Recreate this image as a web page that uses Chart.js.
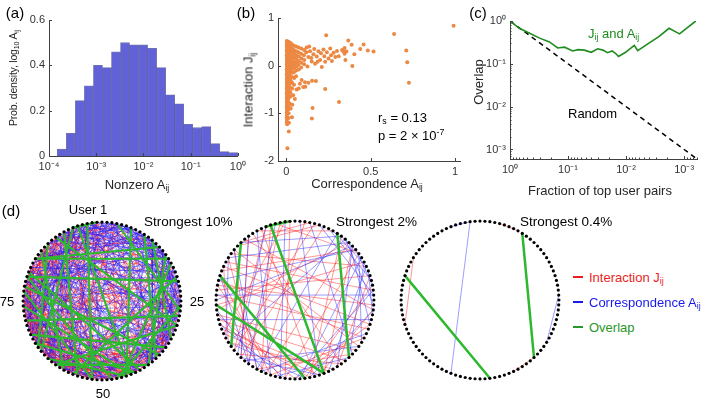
<!DOCTYPE html>
<html>
<head>
<meta charset="utf-8">
<script src="https://cdn.jsdelivr.net/npm/chart.js@4/dist/chart.umd.min.js"></script>
<style>
body { margin: 0; background: #fff; font-family: "Liberation Sans", Arial, Helvetica, sans-serif; }
#fig { position: relative; width: 706px; height: 399px; overflow: hidden; }
#fig canvas { position: absolute; }
.t { position: absolute; white-space: nowrap; color: #262626; font-size: 13px; line-height: 1; }
.c { transform: translate(-50%, -50%); }
.l { transform: translate(0, -50%); }
.rot { transform: translate(-50%, -50%) rotate(-90deg); }
.lab { font-size: 15px; color: #000; }
sub { font-size: 0.68em; vertical-align: -0.3em; line-height: 0; }
sup { font-size: 0.68em; vertical-align: 0.5em; line-height: 0; }
.key { position: absolute; width: 10px; height: 2px; }
</style>
</head>
<body>
<div id="fig">
  <canvas id="histA" width="250" height="178" style="left:0;top:0"></canvas>
  <canvas id="scatB" width="240" height="180" style="left:230px;top:0"></canvas>
  <canvas id="overC" width="236" height="178" style="left:470px;top:0"></canvas>
  <canvas id="net10" width="180" height="180" style="left:12px;top:211px"></canvas>
  <canvas id="net2" width="180" height="180" style="left:205px;top:210px"></canvas>
  <canvas id="net04" width="180" height="180" style="left:390px;top:210px"></canvas>

  <div class="t c lab" style="left:15px;top:12px">(a)</div>
  <div class="t c lab" style="left:246px;top:12px">(b)</div>
  <div class="t c lab" style="left:478px;top:12px">(c)</div>
  <div class="t c lab" style="left:11px;top:210px">(d)</div>

  <div class="t rot" style="left:13px;top:78px;font-size:10.5px;letter-spacing:-0.2px">Prob. density, log<sub>10</sub> A<sub>ij</sub></div>
  <div class="t c" style="left:137px;top:184px">Nonzero A<sub>ij</sub></div>

  <div class="t rot" style="left:248px;top:90px">Interaction J<sub>ij</sub></div>
  <div class="t c" style="left:367px;top:183px">Correspondence A<sub>ij</sub></div>
  <div class="t l" style="left:378px;top:117px;color:#000">r<sub>s</sub> = 0.13</div>
  <div class="t l" style="left:378px;top:135px;color:#000">p = 2 × 10<sup>-7</sup></div>

  <div class="t rot" style="left:478px;top:82px">Overlap</div>
  <div class="t c" style="left:600px;top:190px">Fraction of top user pairs</div>
  <div class="t l" style="left:588px;top:33px;color:rgb(30,140,30)">J<sub>ij</sub> and A<sub>ij</sub></div>
  <div class="t l" style="left:568px;top:113px;color:#000">Random</div>

  <div class="t c" style="left:88px;top:209px;color:#000">User 1</div>
  <div class="t c" style="left:197px;top:301px;color:#000">25</div>
  <div class="t c" style="left:7px;top:301px;color:#000">75</div>
  <div class="t c" style="left:103px;top:393px;color:#000">50</div>
  <div class="t l" style="left:144px;top:222px;color:#000;font-size:13.5px">Strongest 10%</div>
  <div class="t l" style="left:336px;top:222px;color:#000;font-size:13.5px">Strongest 2%</div>
  <div class="t l" style="left:520px;top:222px;color:#000;font-size:13.5px">Strongest 0.4%</div>

  <div class="key" style="left:573px;top:276px;background:rgb(235,30,30)"></div>
  <div class="t l" style="left:589px;top:277px;color:rgb(235,30,30)">Interaction J<sub>ij</sub></div>
  <div class="key" style="left:573px;top:301px;background:rgb(25,25,235)"></div>
  <div class="t l" style="left:589px;top:302px;color:rgb(25,25,235)">Correspondence A<sub>ij</sub></div>
  <div class="key" style="left:573px;top:326px;background:rgb(40,150,40)"></div>
  <div class="t l" style="left:589px;top:327px;color:rgb(40,150,40)">Overlap</div>
</div>

<script>
// (a) histogram of log10 A_ij for nonzero entries
const histBinCenters = [-3.728, -3.537, -3.346, -3.155, -2.963, -2.772, -2.581, -2.390, -2.199, -2.007,
                        -1.816, -1.625, -1.434, -1.243, -1.052, -0.860, -0.669, -0.478, -0.287, -0.096];
const histDensity = [0.03, 0.10, 0.245, 0.31, 0.40, 0.39, 0.46, 0.50, 0.49, 0.49,
                     0.475, 0.39, 0.27, 0.23, 0.14, 0.125, 0.13, 0.055, 0.02, 0.015];
const histTickVals = [-4, -3, -2, -1, 0];
const histTickLabels = ['10⁻⁴', '10⁻³', '10⁻²', '10⁻¹', '10⁰'];
const densTickVals = [0, 0.2, 0.4, 0.6];
const densTickLabels = ['0', '0.2', '0.4', '0.6'];

// (b) correspondence A_ij vs interaction J_ij
const corrJPoints = [
  [0.002,0.52],[0.003,0.47],[0.002,0.42],[0.003,0.37],[0.002,0.32],[0.003,0.27],[0.002,0.22],[0.003,0.17],
  [0.002,0.12],[0.003,0.07],[0.002,0.02],[0.003,-0.03],[0.002,-0.08],[0.003,-0.13],[0.002,-0.18],[0.003,-0.23],
  [0.002,-0.28],[0.003,-0.33],[0.002,-0.38],[0.003,-0.43],[0.002,-0.48],[0.003,-0.53],[0.002,-0.58],[0.003,-0.63],
  [0.002,-0.68],[0.003,-0.73],[0.002,-0.78],[0.003,-0.83],[0.002,-0.88],[0.003,-0.93],[0.002,-0.98],[0.003,-1.03],
  [0.002,-1.08],[0.003,-1.13],[0.002,-1.18],[0.004,-1.23],
  [0.012,0.50],[0.011,0.44],[0.013,0.38],[0.012,0.31],[0.011,0.25],[0.013,0.19],[0.012,0.13],[0.011,0.06],
  [0.013,0.00],[0.012,-0.06],[0.011,-0.12],[0.013,-0.19],[0.012,-0.25],[0.011,-0.31],[0.013,-0.38],[0.012,-0.44],
  [0.011,-0.50],[0.013,-0.57],[0.012,-0.63],[0.011,-0.70],[0.013,-0.77],[0.012,-0.85],[0.011,-0.92],[0.013,-1.00],
  [0.012,-1.10],
  [0.022,0.48],[0.021,0.41],[0.023,0.34],[0.022,0.27],[0.021,0.20],[0.023,0.13],[0.022,0.06],[0.021,-0.01],
  [0.023,-0.08],[0.022,-0.15],[0.021,-0.22],[0.023,-0.30],[0.022,-0.38],[0.021,-0.46],[0.023,-0.55],[0.022,-0.65],
  [0.021,-0.80],
  [0.033,0.45],[0.032,0.37],[0.034,0.29],[0.033,0.21],[0.032,0.14],[0.034,0.07],[0.033,0.00],[0.032,-0.07],
  [0.034,-0.15],[0.033,-0.24],[0.032,-0.35],[0.034,-0.48],[0.033,-0.62],
  [0.045,0.42],[0.044,0.33],[0.046,0.25],[0.045,0.17],[0.044,0.09],[0.046,0.02],[0.045,-0.05],[0.044,-0.14],
  [0.046,-0.26],[0.045,-0.40],
  [0.058,0.40],[0.057,0.30],[0.059,0.22],[0.058,0.14],[0.057,0.06],[0.059,-0.02],[0.058,-0.10],[0.057,-0.22],
  [0.072,0.38],[0.071,0.28],[0.073,0.19],[0.072,0.10],[0.071,0.02],[0.073,-0.08],
  [0.088,0.36],[0.087,0.25],[0.089,0.15],[0.088,0.06],[0.087,-0.04],
  [0.105,0.33],[0.104,0.22],[0.106,0.12],[0.105,0.03],
  // tail
  [0.12,0.38],[0.13,0.18],[0.125,-0.02],[0.14,0.30],[0.15,0.09],[0.16,0.24],[0.165,0.35],[0.17,0.04],
  [0.18,0.19],[0.19,0.30],[0.20,0.12],[0.205,0.26],[0.21,-0.03],[0.22,0.34],[0.225,0.20],[0.23,0.08],
  [0.24,0.28],[0.25,0.15],[0.26,0.36],[0.265,0.22],[0.27,0.10],[0.28,0.27],[0.29,0.18],[0.30,0.31],
  [0.31,0.20],[0.33,0.33],[0.345,0.25],[0.35,0.12],[0.118,0.28],[0.135,0.40],[0.148,0.16],[0.185,0.08],
  // negative side
  [0.06,-0.50],[0.08,-0.38],[0.09,-0.30],[0.10,-0.45],[0.11,-0.35],[0.13,-0.36],[0.152,-0.317],[0.175,-0.32],
  [0.04,-0.62],[0.05,-0.70],[0.035,-0.82],[0.025,-0.90],[0.033,-1.08],[0.015,-1.20],[0.014,-1.38],[0.006,-1.73],
  [0.155,-0.887],[0.151,-1.11],[0.23,-0.49],[0.312,-0.76],[0.236,0.64],[0.112,-0.44],[0.073,-0.48],
  // outliers
  [0.992,0.838],[0.639,0.662],[0.711,0.317],[0.717,0.07],[0.727,-0.359],[0.517,0.296],[0.483,0.317],[0.458,0.444],
  [0.438,0.352],[0.403,0.239],[0.391,-0.007],[0.387,0.437],[0.367,0.528],[0.356,0.296],[0.345,0.37],[0.338,0.30]
];
const corrTickVals = [0, 0.5, 1];
const corrTickLabels = ['0', '0.5', '1'];
const interTickVals = [-2, -1, 0, 1];
const interTickLabels = ['-2', '-1', '0', '1'];

// (c) overlap of the strongest pairs
const topFraction = [1, 0.692, 0.468, 0.309, 0.209, 0.151, 0.115, 0.0832, 0.0676, 0.0525, 0.0398, 0.0309, 0.0251,
                     0.0209, 0.0174, 0.0151, 0.0135, 0.0102, 0.00724, 0.00631, 0.00398, 0.00269, 0.00182, 0.00120, 0.00063];
const overlapJA = [1, 0.676, 0.525, 0.398, 0.324, 0.234, 0.245, 0.200, 0.214, 0.209, 0.186, 0.224, 0.209,
                   0.182, 0.200, 0.174, 0.148, 0.186, 0.269, 0.204, 0.309, 0.437, 0.676, 0.501, 1];
const randomFraction = [1, 0.00063];
const randomOverlap = [1, 0.00063];
const logTickVals = [1, 0.1, 0.01, 0.001];
const logTickLabels = ['10⁰', '10⁻¹', '10⁻²', '10⁻³'];

// (d) networks: node pairs (users 1..100)
const nodeCount = 100;
const red10 = [[2,47],[3,58],[5,71],[6,39],[7,83],[8,52],[10,64],[11,90],[12,45],[13,77],[14,55],[15,68],[16,88],[17,41],
  [18,62],[19,73],[21,50],[22,84],[23,59],[24,66],[26,79],[27,53],[28,91],[29,61],[31,74],[32,56],[33,86],[34,67],
  [35,95],[36,58],[37,80],[38,63],[39,92],[40,70],[42,76],[43,98],[44,69],[46,82],[47,100],[48,72],[49,87],[51,78],
  [52,94],[53,71],[54,89],[55,76],[56,97],[57,81],[58,93],[60,85],[61,99],[62,79],[63,96],[64,88],[65,83],[66,92],
  [67,86],[68,97],[69,90],[70,99],[30,48],[31,52],[33,57],[35,49],[36,62],[38,55],[40,58],[41,66],[43,60],[44,64],
  [45,72],[46,61],[47,68],[50,66],[51,70],[53,75],[54,69],[57,74],[59,77],[60,78],[65,90],[67,81],[72,94],[73,88],
  [74,96],[76,91],[78,100],[80,95],[82,4],[84,10],[86,3],[89,7],[9,30],[12,33],[14,36],[16,27],[18,40],[20,35],
  [22,44],[25,42],[26,38],[28,46],[30,42],[32,50],[1,35],[4,60],[9,78],[20,86],[25,75],[37,93],[45,88],[57,99],
  [63,8],[71,19],[77,27],[85,34],[93,46],[97,41],[39,51],[42,54],[48,59],[55,64],[61,73],[66,79],[70,83],[75,87],
  [1,53],[2,29],[3,76],[4,44],[5,91],[6,67],[7,25],[8,79],[9,51],[10,36],[11,62],[12,88],[13,49],[14,72],
  [15,97],[16,43],[17,65],[18,85],[19,47],[20,71],[21,92],[22,58],[23,38],[24,81],[25,54],[26,69],[27,96],[28,63],
  [29,44],[30,77],[31,89],[32,66],[33,45],[34,82],[35,61],[36,93],[37,54],[38,71],[39,99],[40,62],[41,84],[42,58],
  [43,75],[44,91],[45,60],[46,79],[47,57],[48,86],[49,68],[50,93],[51,63],[52,80],[53,99],[54,73],[55,88],[56,66],
  [57,90],[58,75],[59,100],[60,72],[61,84],[62,97],[63,77],[64,52],[65,74],[66,38],[67,49],[68,82],[69,56],[70,88],
  [71,47],[72,60],[73,95],[74,58],[75,50],[76,63],[77,89],[78,54],[79,96],[80,64],[81,100],[82,68],[83,52],[84,73],
  [85,61],[86,47],[87,66],[88,53],[89,77],[90,59],[91,70],[92,48],[93,74],[94,57],[95,80],[96,65],[97,84],[98,62],
  [99,71],[100,55]];
const blue10 = [[1,24],[2,33],[3,45],[4,18],[5,29],[6,57],[7,40],[8,22],[9,66],[10,31],[11,48],[12,27],[13,60],[14,38],
  [15,52],[16,35],[17,80],[18,43],[19,58],[20,37],[21,69],[22,41],[23,85],[24,47],[25,63],[26,44],[27,90],[28,54],
  [29,75],[30,51],[1,62],[3,71],[5,88],[7,96],[9,84],[11,73],[13,93],[15,81],[17,99],[19,90],[21,94],[23,76],
  [25,98],[27,68],[29,87],[31,64],[33,79],[35,58],[37,72],[39,86],[41,67],[43,91],[45,70],[47,83],[49,76],[51,94],
  [53,80],[55,97],[57,84],[59,92],[61,87],[63,99],[65,89],[67,95],[69,93],[71,97],[73,3],[75,8],[77,14],[79,20],
  [81,26],[83,31],[85,39],[87,45],[89,50],[91,56],[93,61],[95,67],[97,72],[99,78],[100,34],[98,40],[96,22],[94,15],
  [92,11],[90,6],[88,2],[86,28],[84,36],[82,42],[2,16],[4,21],[6,26],[8,30],[10,19],[12,23],[14,28],[16,32],
  [18,25],[20,46],[36,55],[42,61],[48,66],[52,73],[56,77],[60,82],[3,12],[5,15],[7,34],[11,39],[91,13],[95,9],
  [1,11],[2,52],[3,27],[4,67],[5,40],[6,83],[7,14],[8,61],[9,43],[10,76],[11,35],[12,54],[13,26],[14,69],
  [15,44],[16,92],[17,55],[18,34],[19,82],[20,63],[21,39],[22,98],[23,57],[24,36],[25,79],[26,60],[27,41],[28,70],
  [29,95],[30,66],[31,47],[32,89],[33,62],[34,53],[35,78],[36,97],[37,49],[38,68],[39,100],[40,56],[41,85],[42,72],
  [43,53],[44,81],[45,96],[46,68],[47,90],[48,59],[49,74],[50,98],[51,81],[52,67],[53,90],[54,76],[55,65],[56,93],
  [57,78],[58,100],[59,70],[60,89],[61,75],[62,96],[63,81],[64,92],[65,77],[66,98],[67,83],[68,94],[69,80],[70,91],
  [71,5],[72,16],[73,26],[74,9],[75,33],[76,2],[77,44],[78,12],[79,35],[80,8],[81,47],[82,19],[83,4],[84,27],
  [85,11],[86,50],[87,21],[88,40],[89,14],[90,32],[91,3],[92,25],[93,38],[94,7],[95,29],[96,48],[97,17],[98,33],
  [99,6],[100,21]];
const green10 = [[94,64],[80,21],[71,28],[81,42],[9,38],[20,56],[88,65],[80,48],[74,44],[95,44],[94,99],[97,52],
  [92,55],[84,16],[6,45],[11,33],[17,46],[13,84],[30,60],[35,68],[78,37],[66,43],[60,40],[26,47],[90,30],[86,58],
  [3,27],[62,45],[77,52],[15,40]];

const red2 = [[77,20],[78,26],[76,31],[74,17],[79,33],[81,14],[83,23],[72,36],[71,39],[69,43],[73,12],[82,30],[85,18],
  [86,35],[87,5],[89,27],[91,40],[93,46],[95,57],[97,60],[99,52],[2,57],[4,64],[6,62],[10,47],[12,56],[13,44],
  [15,52],[20,41],[22,48],[27,45],[30,50],[33,55],[37,58],[40,63],[42,66],[45,68],[47,70],[50,72],[53,78],[55,80],
  [58,84],[60,86],[62,90],[64,94],[66,82],[68,98],[88,3],[92,8],[96,15]];
const blue2 = [[24,76],[29,71],[98,53],[96,60],[1,45],[3,37],[5,24],[7,21],[8,18],[10,14],[11,26],[12,30],[13,41],
  [14,22],[15,34],[16,49],[17,38],[18,43],[19,28],[9,58],[11,66],[13,75],[14,79],[12,84],[10,88],[92,55],[94,63],
  [90,62],[86,58],[84,67],[80,60],[73,56],[70,52],[66,48],[62,45],[32,57],[35,61],[38,54],[27,47],[23,50]];
const green2 = [[88,65],[80,48],[74,44],[95,44],[9,38],[94,99]];

const red04 = [[70,84],[38,43],[4,8]];
const blue04 = [[98,56],[24,34],[94,98]];
const green04 = [[9,38],[80,48]];

// ---- drawing ----
const axisColor = '#404040';
const tickFont = { family: "'Liberation Sans', Arial, sans-serif", size: 11 };
Chart.defaults.font.family = tickFont.family;

const innerTicks = {
  id: 'innerTicks',
  afterDraw(chart, args, opts) {
    const ctx = chart.ctx, a = chart.chartArea;
    ctx.save();
    ctx.strokeStyle = axisColor;
    ctx.lineWidth = 1;
    Object.values(chart.scales).forEach(s => {
      if (!s.options.display) return;
      const draw = (v, len) => {
        const p = Math.round(s.getPixelForValue(v)) + 0.5;
        ctx.beginPath();
        if (s.isHorizontal()) {
          if (p < a.left - 1 || p > a.right + 1) return;
          ctx.moveTo(p, a.bottom); ctx.lineTo(p, a.bottom - len);
        } else {
          if (p < a.top - 1 || p > a.bottom + 1) return;
          ctx.moveTo(a.left, p); ctx.lineTo(a.left + len, p);
        }
        ctx.stroke();
      };
      s.ticks.forEach(t => draw(t.value, 3));
      ((opts && opts.minor && opts.minor[s.id]) || []).forEach(v => draw(v, 1.5));
    });
    ctx.restore();
  }
};

function axisOpts(vals, labels, extra) {
  return Object.assign({
    grid: { display: false, drawTicks: false },
    border: { display: true, color: axisColor, width: 1 },
    afterBuildTicks: s => { s.ticks = vals.map(v => ({ value: v })); },
    ticks: {
      font: tickFont, color: '#333', padding: 4, autoSkip: false, maxRotation: 0,
      callback: v => { const i = vals.indexOf(v); return i < 0 ? '' : labels[i]; }
    }
  }, extra);
}

// (a)
new Chart(document.getElementById('histA'), {
  type: 'bar',
  data: {
    datasets: [{
      data: histBinCenters.map((c, i) => ({ x: c, y: histDensity[i] })),
      backgroundColor: 'rgb(98,98,216)',
      borderColor: 'rgba(55,55,130,0.7)',
      borderWidth: 0.8,
      barPercentage: 1, categoryPercentage: 1, grouped: false
    }]
  },
  options: {
    responsive: false, animation: false,
    layout: { padding: { top: 20, right: 12, left: 0, bottom: 0 } },
    plugins: { legend: { display: false }, tooltip: { enabled: false } },
    scales: {
      x: axisOpts(histTickVals, histTickLabels, { type: 'linear', min: -4, max: 0, offset: false, afterFit: s => { s.height = 22; } }),
      y: axisOpts(densTickVals, densTickLabels, { min: 0, max: 0.6, afterFit: s => { s.width = 49; } })
    }
  },
  plugins: [innerTicks]
});

// (b)
new Chart(document.getElementById('scatB'), {
  type: 'scatter',
  data: {
    datasets: [{
      data: corrJPoints.map(p => ({ x: p[0], y: p[1] })),
      backgroundColor: 'rgb(236,136,66)',
      borderWidth: 0,
      pointRadius: 2
    }]
  },
  options: {
    responsive: false, animation: false,
    layout: { padding: { top: 18, right: 10, left: 0, bottom: 0 } },
    plugins: { legend: { display: false }, tooltip: { enabled: false } },
    scales: {
      x: axisOpts(corrTickVals, corrTickLabels, { type: 'linear', min: -0.05, max: 1.03, afterFit: s => { s.height = 19; } }),
      y: axisOpts(interTickVals, interTickLabels, { min: -2, max: 1, afterFit: s => { s.width = 48; } })
    }
  },
  plugins: [innerTicks]
});

// (c)
const minorLog = [];
[-4, -3, -2, -1].forEach(d => { for (let m = 2; m <= 9; m++) minorLog.push(m * Math.pow(10, d)); });
new Chart(document.getElementById('overC'), {
  type: 'scatter',
  data: {
    datasets: [{
      data: topFraction.map((f, i) => ({ x: f, y: overlapJA[i] })),
      showLine: true, borderColor: 'rgb(30,140,30)', borderWidth: 1.6, pointRadius: 0
    }, {
      data: randomFraction.map((f, i) => ({ x: f, y: randomOverlap[i] })),
      showLine: true, borderColor: '#000', borderWidth: 1.5, borderDash: [5, 4], pointRadius: 0
    }]
  },
  options: {
    responsive: false, animation: false,
    layout: { padding: { top: 21, right: 9, left: 0, bottom: 0 } },
    plugins: { legend: { display: false }, tooltip: { enabled: false }, innerTicks: { minor: { x: minorLog, y: minorLog } } },
    scales: {
      x: axisOpts(logTickVals, logTickLabels, { type: 'logarithmic', reverse: true, min: 0.00063, max: 1, afterFit: s => { s.height = 19; } }),
      y: axisOpts(logTickVals, logTickLabels, { type: 'logarithmic', min: 0.00063, max: 1, afterFit: s => { s.width = 40; } })
    }
  },
  plugins: [innerTicks]
});

// (d)
function nodePos(k) {
  const th = Math.PI / 2 - k * 2 * Math.PI / nodeCount;
  return { x: Math.cos(th), y: Math.sin(th) };
}
function edgePath(edges) {
  const out = [];
  edges.forEach(e => { out.push(nodePos(e[0]), nodePos(e[1]), { x: null, y: null }); });
  return out;
}
function drawNetwork(id, red, blue, green, greenWidth) {
  const nodes = [];
  for (let k = 1; k <= nodeCount; k++) nodes.push(nodePos(k));
  new Chart(document.getElementById(id), {
    type: 'scatter',
    data: {
      datasets: [
        { data: nodes, pointRadius: 1.6, backgroundColor: '#000', borderWidth: 0 },
        { data: edgePath(green), showLine: true, spanGaps: false, borderColor: 'rgb(45,185,45)', borderWidth: greenWidth, pointRadius: 0 },
        { data: edgePath(blue), showLine: true, spanGaps: false, borderColor: 'rgba(30,30,255,0.55)', borderWidth: 0.8, pointRadius: 0 },
        { data: edgePath(red), showLine: true, spanGaps: false, borderColor: 'rgba(255,20,20,0.55)', borderWidth: 0.8, pointRadius: 0 }
      ]
    },
    options: {
      responsive: false, animation: false,
      layout: { padding: 0 },
      plugins: { legend: { display: false }, tooltip: { enabled: false } },
      scales: {
        x: { display: false, min: -1.09, max: 1.09 },
        y: { display: false, min: -1.09, max: 1.09 }
      }
    }
  });
}
drawNetwork('net10', red10, blue10, green10, 2.1);
drawNetwork('net2', red2, blue2, green2, 2.5);
drawNetwork('net04', red04, blue04, green04, 2.5);
</script>
</body>
</html>
